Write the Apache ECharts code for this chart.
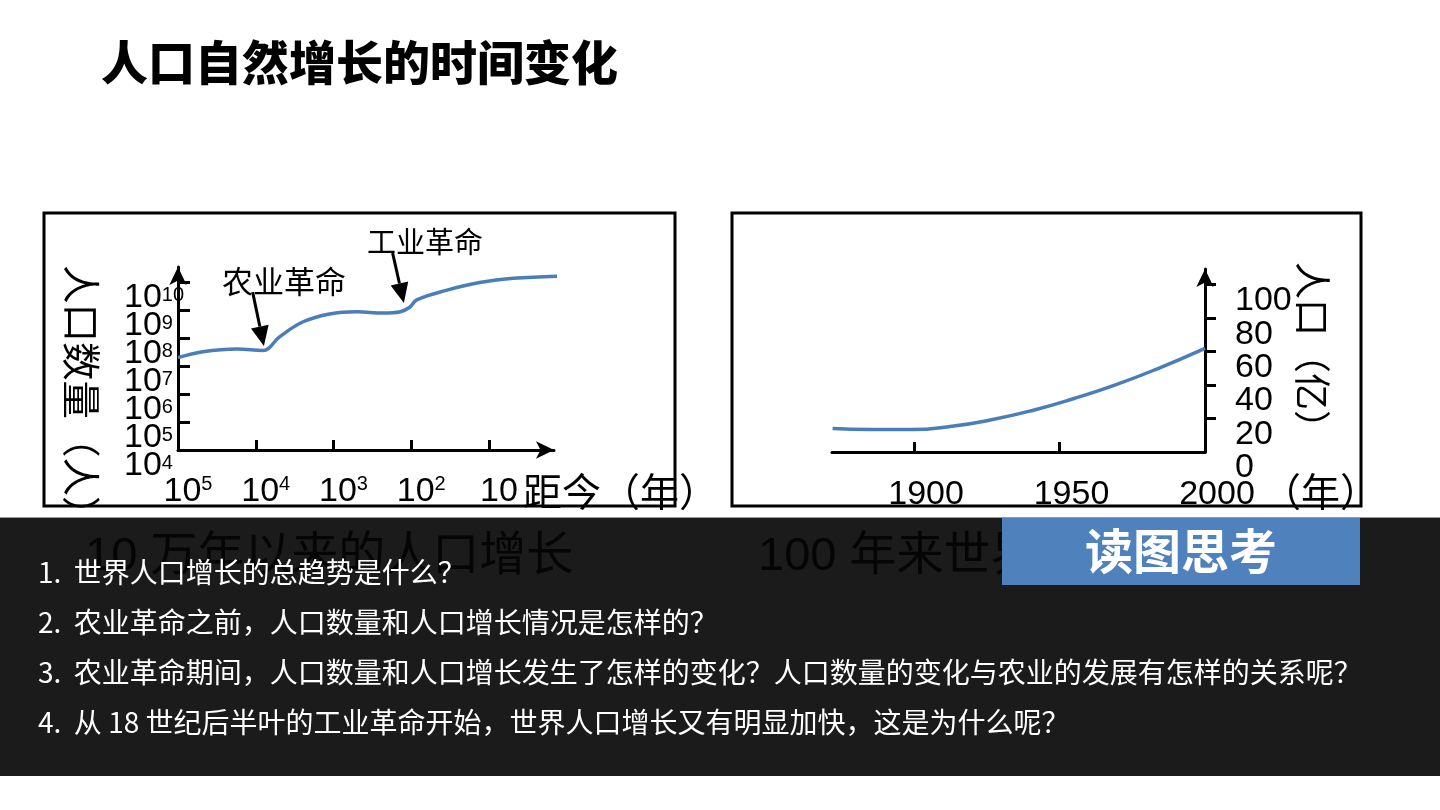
<!DOCTYPE html>
<html>
<head>
<meta charset="utf-8">
<script src="https://cdn.jsdelivr.net/npm/echarts@6/dist/echarts.min.js"></script>
<style>
html, body { margin: 0; padding: 0; background: #fff; }
#chart { width: 1440px; height: 810px; }
</style>
</head>
<body>
<div id="chart"></div>
<script>
// 左图：横轴取 5 - lg(距今年数)，纵轴取 lg(人口数量)
var longX = [0, 0.32, 0.76, 1.09, 1.31, 1.61, 1.95, 2.30, 2.64, 2.86, 2.98, 3.07, 3.46, 3.88, 4.31, 4.95];
var longY = [7.30, 7.51, 7.61, 7.55, 8.05, 8.58, 8.86, 8.94, 8.89, 8.94, 9.10, 9.36, 9.71, 9.98, 10.13, 10.21];
var longXTicks = [0, 1, 2, 3, 4];
var longXExp = ['5', '4', '3', '2', ''];   // 10^5 ... 10
var longYTicks = [4, 5, 6, 7, 8, 9, 10];

// 右图：年份 / 人口（亿）
var years = [1872, 1885, 1899, 1913, 1927, 1941, 1955, 1969, 1983, 2000];
var pop = [14.0, 13.4, 13.4, 15.4, 19.4, 25, 32, 40, 49.3, 62];
var yearTicks = [1900, 1950, 2000];
var popTicks = [0, 20, 40, 60, 80, 100];

// 注释箭头（左图数据坐标）
var notes = [
    { name: '农业革命', from: [0.96, 9.64], to: [1.105, 7.71] },
    { name: '工业革命', from: [2.76, 11.04], to: [2.905, 9.25] }
];

var questions = [
    '1.  世界人口增长的总趋势是什么？',
    '2.  农业革命之前，人口数量和人口增长情况是怎样的？',
    '3.  农业革命期间，人口数量和人口增长发生了怎样的变化？人口数量的变化与农业的发展有怎样的关系呢？',
    '4.  从 18 世纪后半叶的工业革命开始，世界人口增长又有明显加快，这是为什么呢？'
];

var FONT = '"Liberation Sans", "Noto Sans CJK SC", sans-serif';
var CJK = '"Noto Sans CJK SC", sans-serif';
var LINE_COLOR = '#4a7ebb';

var powRich = {
    b: { fontSize: 34, lineHeight: 26, fontFamily: FONT, color: '#000' },
    s: { fontSize: 20, lineHeight: 20, fontFamily: FONT, color: '#000', verticalAlign: 'top' }
};

var axisLineStyle = { color: '#000', width: 3 };

// 刻度标签挨得很紧，分奇偶放到两条重合的轴上，免得被当成重叠而隐藏
function every(list, start) {
    return list.filter(function (v, i) { return i % 2 === start; });
}

function powLabelY(values) {
    return {
        customValues: values, align: 'left', verticalAlign: 'top', margin: 54, padding: [3, 0, 0, 0], rich: powRich,
        showMinLabel: true, showMaxLabel: true,
        formatter: function (v) { return '{b|10}{s|' + v + '}'; }
    };
}

function popLabelY(values) {
    return {
        customValues: values, align: 'left', verticalAlign: 'top', margin: 30, padding: [3, 0, 0, 0],
        fontSize: 34, lineHeight: 26, fontFamily: FONT, color: '#000',
        showMinLabel: true, showMaxLabel: true
    };
}

// 轴名：每个字占一个字宽（全角括号不被挤窄）
function charRow(text, x, y, size, vertical) {
    return text.split('').map(function (ch, i) {
        var el = {
            type: 'text', z: 5,
            x: vertical ? x : x + i * size + size / 2,
            y: vertical ? y + i * size + size / 2 : y,
            style: { text: ch, font: size + 'px ' + CJK, fill: '#000', textAlign: 'center', textVerticalAlign: 'middle' }
        };
        if (vertical) el.rotation = -Math.PI / 2;
        return el;
    });
}

var myChart = echarts.init(document.getElementById('chart'));

// 静态的文字与方框
var graphics = [
    { type: 'rect', z: 1, shape: { x: 0, y: 518, width: 1440, height: 258 }, style: { fill: '#1b1b1b' } },
    { type: 'rect', z: 1, shape: { x: 0, y: 517, width: 1440, height: 1 }, style: { fill: '#9a9a9a' } },
    { type: 'rect', z: 5, shape: { x: 44, y: 213, width: 631, height: 293 }, style: { fill: null, stroke: '#000', lineWidth: 3 } },
    { type: 'rect', z: 5, shape: { x: 732, y: 213, width: 629, height: 293 }, style: { fill: null, stroke: '#000', lineWidth: 3 } },
    { type: 'text', z: 5, x: 101, y: 62, style: { text: '人口自然增长的时间变化', font: '900 47px ' + CJK, fill: '#000', textVerticalAlign: 'middle' } },
    { type: 'text', z: 5, x: 222, y: 281, style: { text: '农业革命', font: '31px ' + CJK, fill: '#000', textVerticalAlign: 'middle' } },
    { type: 'text', z: 5, x: 367, y: 242, style: { text: '工业革命', font: '29px ' + CJK, fill: '#000', textVerticalAlign: 'middle' } },
    { type: 'text', z: 5, x: 85, y: 557, style: { text: '10 万年以来的人口增长', font: '47px ' + FONT, fill: '#050505', textVerticalAlign: 'middle' } },
    { type: 'text', z: 5, x: 758, y: 557, style: { text: '100 年来世界人口增长', font: '47px ' + FONT, fill: '#050505', textVerticalAlign: 'middle' } },
    { type: 'rect', z: 6, shape: { x: 1002, y: 518, width: 358, height: 67 }, style: { fill: '#4f81bd' } },
    { type: 'text', z: 7, x: 1181, y: 551, style: { text: '读图思考', font: 'bold 48px ' + CJK, fill: '#fff', textAlign: 'center', textVerticalAlign: 'middle' } }
]
    .concat(charRow('距今（年）', 523, 491, 39, false))
    .concat(charRow('（年）', 1262, 491, 39, false))
    .concat(charRow('人口数量（人）', 82, 265, 38.5, true))
    .concat(charRow('人口（亿）', 1312, 262, 37, true));

questions.forEach(function (q, i) {
    graphics.push({
        type: 'text', z: 8, x: 38, y: 572 + i * 50,
        style: { text: q, font: '28px ' + CJK, fill: '#fff', textVerticalAlign: 'middle' }
    });
});

var options = {
    animation: false,
    backgroundColor: '#fff',
    grid: [
        { left: 178, right: 886, top: 267, bottom: 360 },
        { left: 832, right: 235, top: 269, bottom: 358 }
    ],
    xAxis: [{
        gridIndex: 0, type: 'value', min: 0, max: 4.836,
        axisLine: { symbol: ['none', 'arrow'], symbolSize: [13, 18], lineStyle: axisLineStyle },
        axisTick: { inside: true, length: 10, customValues: [1, 2, 3, 4], lineStyle: axisLineStyle },
        axisLabel: {
            customValues: longXTicks, margin: 24, padding: [0, 0, 0, 20],
            rich: { b: { fontSize: 34, lineHeight: 36, fontFamily: FONT, color: '#000' }, s: powRich.s },
            showMinLabel: true, showMaxLabel: true,
            formatter: function (v) {
                var e = longXExp[Math.round(v)];
                return e ? '{b|10}{s|' + e + '}' : '{b|10}';
            }
        },
        splitLine: { show: false }
    }, {
        gridIndex: 1, type: 'value', min: 1871.8, max: 2000,
        axisLine: { lineStyle: axisLineStyle },
        axisTick: { inside: true, length: 10, customValues: [1900, 1950], lineStyle: axisLineStyle },
        axisLabel: {
            customValues: yearTicks, margin: 26, padding: [0, 0, 0, 24], fontSize: 34, fontFamily: FONT, color: '#000',
            showMinLabel: true, showMaxLabel: true,
            formatter: function (v) { return String(v); }
        },
        splitLine: { show: false }
    }],
    yAxis: [{
        gridIndex: 0, type: 'value', position: 'left', min: 4, max: 10.536,
        axisLine: { show: true, symbol: ['none', 'arrow'], symbolSize: [13, 18], lineStyle: axisLineStyle },
        axisTick: { show: true, inside: true, length: 12, customValues: [5, 6, 7, 8, 9, 10], lineStyle: axisLineStyle },
        axisLabel: powLabelY(every(longYTicks, 0)),
        splitLine: { show: false }
    }, {
        gridIndex: 0, type: 'value', position: 'left', offset: 0, min: 4, max: 10.536,
        axisLine: { show: false }, axisTick: { show: false },
        axisLabel: powLabelY(every(longYTicks, 1)),
        splitLine: { show: false }
    }, {
        gridIndex: 1, type: 'value', position: 'right', min: 0, max: 109.4,
        axisLine: { show: true, symbol: ['none', 'arrow'], symbolSize: [13, 18], lineStyle: axisLineStyle },
        axisTick: { show: true, length: 11, customValues: [20, 40, 60, 80, 100], lineStyle: axisLineStyle },
        axisLabel: popLabelY(every(popTicks, 0)),
        splitLine: { show: false }
    }, {
        gridIndex: 1, type: 'value', position: 'right', offset: 0, min: 0, max: 109.4,
        axisLine: { show: false }, axisTick: { show: false },
        axisLabel: popLabelY(every(popTicks, 1)),
        splitLine: { show: false }
    }],
    series: [{
        type: 'line', xAxisIndex: 0, yAxisIndex: 0, clip: false, smooth: 0.4, showSymbol: false,
        lineStyle: { color: LINE_COLOR, width: 3.5 },
        data: longX.map(function (x, i) { return [x, longY[i]]; })
    }, {
        type: 'line', xAxisIndex: 1, yAxisIndex: 2, smooth: 0.5, showSymbol: false,
        lineStyle: { color: LINE_COLOR, width: 3.5 },
        data: years.map(function (y, i) { return [y, pop[i]]; })
    }],
    graphic: graphics
};

myChart.setOption(options);

// 箭头：数据坐标换成像素后再画
var arrows = [];
notes.forEach(function (n) {
    var a = myChart.convertToPixel({ gridIndex: 0 }, n.from);
    var b = myChart.convertToPixel({ gridIndex: 0 }, n.to);
    var dx = b[0] - a[0], dy = b[1] - a[1];
    var len = Math.sqrt(dx * dx + dy * dy);
    var ux = dx / len, uy = dy / len;
    var head = 20, half = 9;
    var bx = b[0] - ux * head, by = b[1] - uy * head;
    arrows.push({
        type: 'line', z: 9, shape: { x1: a[0], y1: a[1], x2: bx, y2: by },
        style: { stroke: '#000', lineWidth: 3 }
    });
    arrows.push({
        type: 'polygon', z: 9,
        shape: { points: [[b[0], b[1]], [bx - uy * half, by + ux * half], [bx + uy * half, by - ux * half]] },
        style: { fill: '#000' }
    });
});
myChart.setOption({ graphic: graphics.concat(arrows) });
</script>
</body>
</html>
